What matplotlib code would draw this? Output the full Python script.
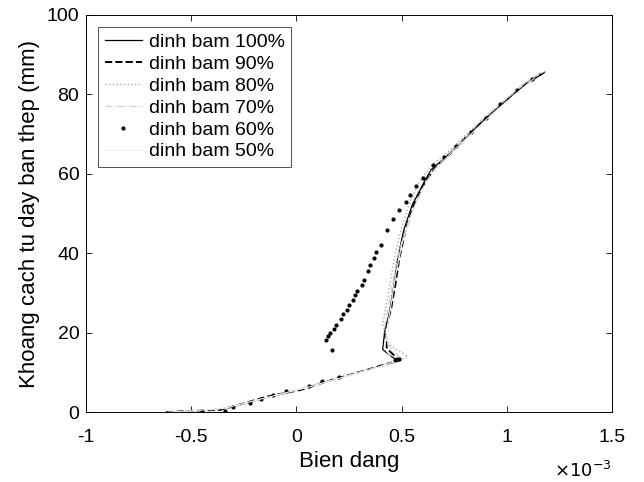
import matplotlib
matplotlib.use("Agg")
import matplotlib.pyplot as plt

plt.rcParams['font.family'] = ['Liberation Sans', 'DejaVu Sans']

# bien dang (x 1e-3) va khoang cach (mm)
x100 = [0.48, 0.45, 0.41, 0.42, 0.44, 0.46, 0.48, 0.51, 0.55, 0.60, 0.64, 0.70, 0.78, 0.87, 0.95, 1.03, 1.11, 1.18]
y100 = [13.1, 14.0, 15.8, 20.5, 24.5, 30.7, 38.3, 45.8, 52.1, 57.2, 61.0, 63.8, 67.5, 72.5, 76.2, 80.0, 83.2, 85.5]

x90 = [-0.62, -0.50, -0.36, -0.25, -0.14, 0.02, 0.13, 0.24, 0.34, 0.42, 0.49, 0.43, 0.42, 0.45, 0.47,
       0.49, 0.52, 0.56, 0.61, 0.66, 0.73, 0.82, 0.92, 1.02, 1.10, 1.17]
y90 = [0.0, 0.3, 0.6, 2.2, 3.9, 5.6, 7.5, 9.2, 10.7, 12.0, 13.0, 16.0, 20.0, 26.0, 32.0,
       39.0, 46.0, 52.5, 57.8, 61.5, 65.0, 70.0, 74.8, 79.5, 83.0, 85.3]

x80 = [-0.60, -0.45, -0.33, -0.20, -0.05, 0.08, 0.20, 0.30, 0.40, 0.47, 0.53, 0.44, 0.41, 0.43, 0.45,
       0.47, 0.50, 0.54, 0.59, 0.65, 0.72, 0.80, 0.90, 1.00, 1.09, 1.19]
y80 = [0.0, 0.4, 0.9, 2.8, 4.8, 6.6, 8.5, 10.0, 11.4, 12.7, 14.0, 17.0, 22.0, 28.0, 34.0,
       40.0, 46.5, 53.0, 58.5, 62.5, 65.5, 69.5, 74.5, 79.0, 83.0, 86.0]

x70 = [-0.58, -0.42, -0.30, -0.18, -0.02, 0.10, 0.22, 0.32, 0.42, 0.50, 0.44, 0.42, 0.44, 0.46,
       0.49, 0.53, 0.58, 0.64, 0.71, 0.79, 0.88, 0.98, 1.08, 1.16]
y70 = [0.0, 0.5, 1.3, 3.0, 5.3, 7.1, 8.9, 10.4, 11.9, 13.4, 16.5, 21.5, 27.5, 33.5,
       41.0, 47.5, 54.5, 60.0, 64.5, 68.5, 73.5, 78.0, 82.5, 85.5]

x60 = [-0.55, -0.45, -0.34, -0.30, -0.22, -0.17, -0.11, -0.05, 0.06, 0.12, 0.20, 0.47, 0.49,
       0.17, 0.14, 0.15, 0.16, 0.18, 0.19, 0.21, 0.22, 0.24, 0.25, 0.27, 0.28, 0.29, 0.31, 0.32,
       0.34, 0.35, 0.37, 0.38, 0.40, 0.43, 0.46, 0.49, 0.52, 0.54, 0.57, 0.60, 0.65, 0.70, 0.76,
       0.83, 0.90, 0.97, 1.05, 1.12]
y60 = [0.1, 0.3, 0.2, 1.2, 2.4, 3.2, 4.3, 5.2, 6.5, 7.8, 8.8, 13.0, 13.4,
       15.6, 18.1, 19.2, 20.0, 21.0, 22.0, 23.5, 24.6, 25.8, 27.0, 28.2, 29.4, 30.5, 32.0, 33.2,
       35.5, 37.0, 38.8, 40.2, 42.0, 45.8, 48.5, 50.9, 53.0, 54.7, 57.0, 59.0, 62.2, 64.3, 67.0,
       70.5, 74.0, 77.5, 81.0, 83.8]

x50 = [-0.61, -0.48, -0.34, -0.22, -0.08, 0.05, 0.17, 0.28, 0.38, 0.46, 0.42, 0.43, 0.45, 0.47,
       0.50, 0.54, 0.60, 0.66, 0.74, 0.84, 0.94, 1.04, 1.13]
y50 = [0.0, 0.4, 1.0, 2.6, 4.5, 6.2, 8.0, 9.6, 11.1, 12.6, 16.2, 21.0, 27.0, 34.0,
       42.0, 49.0, 56.0, 61.0, 65.5, 70.5, 75.5, 80.0, 84.0]

xticks = [-1, -0.5, 0, 0.5, 1, 1.5]
xtick_labels = ['-1', '-0.5', '0', '0.5', '1', '1.5']
yticks = [0, 20, 40, 60, 80, 100]

s = 1e-3
fig = plt.figure(figsize=(6.44, 4.82), dpi=100)
ax = fig.add_axes([0.134, 0.145, 0.816, 0.824])

ax.plot([v * s for v in x100], y100, '-', color='black', lw=0.9, label='dinh bam 100%')
ax.plot([v * s for v in x90], y90, '--', color='black', lw=1.4, label='dinh bam 90%')
ax.plot([v * s for v in x80], y80, ':', color='#aaaaaa', lw=1.0, label='dinh bam 80%')
ax.plot([v * s for v in x70], y70, '-.', color='#cccccc', lw=0.8, label='dinh bam 70%')
ax.plot([v * s for v in x60], y60, '.', color='black', ms=4, label='dinh bam 60%')
ax.plot([v * s for v in x50], y50, '-', color='#f0f0f0', lw=0.8, label='dinh bam 50%')

ax.set_xlim(-1e-3, 1.5e-3)
ax.set_ylim(0, 100)
ax.set_xticks([v * s for v in xticks])
ax.set_xticklabels(xtick_labels)
ax.set_yticks(yticks)

ax.tick_params(direction='in', labelsize=14, top=True, right=True, length=4, width=0.6)
ax.tick_params(axis='x', pad=12)
ax.tick_params(axis='y', pad=5)
for sp in ax.spines.values():
    sp.set_linewidth(0.7)
ax.set_xlabel('Bien dang', fontsize=16, labelpad=4)
ax.set_ylabel('Khoang cach tu day ban thep (mm)', fontsize=16, labelpad=5)
fig.text(0.95, 0.022, r'$\times10^{-3}$', fontsize=13, ha='right', va='center')

leg = ax.legend(loc='upper left', fontsize=14, fancybox=False, edgecolor='black',
                handlelength=1.9, handletextpad=0.35, borderaxespad=0.6,
                labelspacing=0.22, borderpad=0.35)
leg.get_frame().set_linewidth(0.6)

fig.savefig('out.png', dpi=100)
